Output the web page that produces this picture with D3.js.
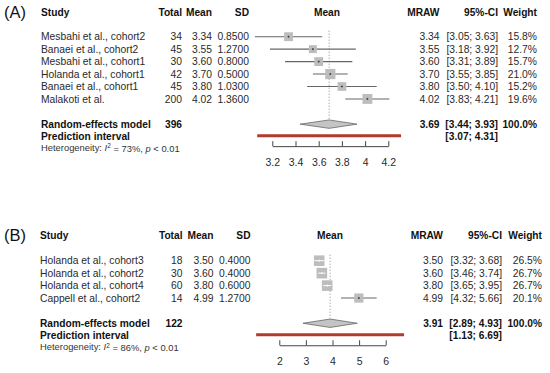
<!DOCTYPE html>
<html>
<head>
<meta charset="utf-8">
<script src="https://cdn.jsdelivr.net/npm/d3@7"></script>
<style>
  body { margin: 0; background: #fff; }
  text { font-family: "Liberation Sans", Arial, sans-serif; }
</style>
</head>
<body>
<script>
// panel A data
var studiesA = ['Mesbahi et al., cohort2', 'Banaei et al., cohort2', 'Mesbahi et al., cohort1',
  'Holanda et al., cohort1', 'Banaei et al., cohort1', 'Malakoti et al.'];
var totalA = [34, 45, 30, 42, 45, 200];
var meanA = [3.34, 3.55, 3.60, 3.70, 3.80, 4.02];
var sdA = [0.85, 1.27, 0.80, 0.50, 1.03, 1.36];
var lowA = [3.05, 3.18, 3.31, 3.55, 3.50, 3.83];
var highA = [3.63, 3.92, 3.89, 3.85, 4.10, 4.21];
var weightA = [15.8, 12.7, 15.7, 21.0, 15.2, 19.6];
var pooledA = {total: 396, est: 3.69, low: 3.44, high: 3.93, piLow: 3.07, piHigh: 4.31, i2: 73};
var ticksA = [3.2, 3.4, 3.6, 3.8, 4, 4.2];

// panel B data
var studiesB = ['Holanda et al., cohort3', 'Holanda et al., cohort2', 'Holanda et al., cohort4',
  'Cappell et al., cohort2'];
var totalB = [18, 30, 60, 14];
var meanB = [3.50, 3.60, 3.80, 4.99];
var sdB = [0.40, 0.40, 0.60, 1.27];
var lowB = [3.32, 3.46, 3.65, 4.32];
var highB = [3.68, 3.74, 3.95, 5.66];
var weightB = [26.5, 26.7, 26.7, 20.1];
var pooledB = {total: 122, est: 3.91, low: 2.89, high: 4.93, piLow: 1.13, piHigh: 6.69, i2: 86};
var ticksB = [2, 3, 4, 5, 6];

var svg = d3.select('body').append('svg')
  .attr('width', 550)
  .attr('height', 373);

var f2 = d3.format('.2f');
var f4 = d3.format('.4f');

function drawPanel(p){
  var g = svg.append('g');
  var n = p.studies.length;
  var rowStep = 12.45;
  var y = d3.scalePoint().domain(p.studies)
    .range([p.firstRow, p.firstRow + rowStep * (n - 1)]);
  var x = d3.scaleLinear().domain(p.domain).range(p.range);
  var size = d3.scaleSqrt().domain([0, d3.max(p.weight)]).range([0, p.maxBox]);
  var c = p.cols;

  var reY = y(p.studies[n - 1]) + 25.2;
  var piY = reY + 12.3;
  var hetY = reY + 23.5;
  var axisY = reY + 22;

  // panel letter
  g.append('text').attr('x', 4).attr('y', p.header).attr('dy', '0.36em')
    .style('font-size', '16.5px').style('fill', '#111').text(p.label);

  // headers
  var headers = [
    {t: 'Study', x: c.study, a: 'start'},
    {t: 'Total', x: c.total, a: 'end'},
    {t: 'Mean', x: c.mean, a: 'end'},
    {t: 'SD', x: c.sd, a: 'end'},
    {t: 'Mean', x: c.forest, a: 'middle'},
    {t: 'MRAW', x: c.mraw, a: 'end'},
    {t: '95%-CI', x: c.ci, a: 'end'},
    {t: 'Weight', x: c.w, a: 'end'}
  ];
  g.selectAll('.hdr').data(headers).enter().append('text')
    .attr('x', function(d){return d.x;})
    .attr('y', p.header).attr('dy', '0.36em')
    .attr('text-anchor', function(d){return d.a;})
    .style('font-size', '10.2px').style('font-weight', 'bold').style('fill', '#111')
    .text(function(d){return d.t;});

  // study rows
  var rows = p.studies.map(function(s, i){
    return {name: s, total: p.total[i], mean: p.mean[i], sd: p.sd[i],
      low: p.low[i], high: p.high[i], w: p.weight[i]};
  });
  var cells = [
    {x: c.study, a: 'start', f: function(d){return d.name;}},
    {x: c.total, a: 'end', f: function(d){return d.total;}},
    {x: c.mean, a: 'end', f: function(d){return f2(d.mean);}},
    {x: c.sd, a: 'end', f: function(d){return f4(d.sd);}},
    {x: c.mraw, a: 'end', f: function(d){return f2(d.mean);}},
    {x: c.ci, a: 'end', f: function(d){return '[' + f2(d.low) + '; ' + f2(d.high) + ']';}},
    {x: c.w, a: 'end', f: function(d){return d.w.toFixed(1) + '%';}}
  ];
  cells.forEach(function(cell){
    g.selectAll(null).data(rows).enter().append('text')
      .attr('x', cell.x)
      .attr('y', function(d){return y(d.name);}).attr('dy', '0.36em')
      .attr('text-anchor', cell.a)
      .style('font-size', '10.3px').style('fill', '#2a2a2a')
      .text(cell.f);
  });

  // dotted pooled line
  g.append('line')
    .attr('x1', x(p.pooled.est)).attr('x2', x(p.pooled.est))
    .attr('y1', p.firstRow - 6).attr('y2', reY - 5)
    .style('stroke', '#888').style('stroke-width', 1).style('stroke-dasharray', '1,2');

  // CI lines
  g.selectAll(null).data(rows).enter().append('line')
    .attr('x1', function(d){return x(d.low);})
    .attr('x2', function(d){return x(d.high);})
    .attr('y1', function(d){return y(d.name);})
    .attr('y2', function(d){return y(d.name);})
    .style('stroke', '#666').style('stroke-width', 1.1);

  // boxes
  g.selectAll(null).data(rows).enter().append('rect')
    .attr('x', function(d){return x(d.mean) - size(d.w) / 2;})
    .attr('y', function(d){return y(d.name) - size(d.w) / 2;})
    .attr('width', function(d){return size(d.w);})
    .attr('height', function(d){return size(d.w);})
    .style('fill', '#bdbdbd');

  // line inside the box: white when CI is inside the box
  g.selectAll(null).data(rows).enter().append('line')
    .attr('x1', function(d){
      var inside = x(d.high) - x(d.low) < size(d.w);
      return inside ? x(d.low) : x(d.mean) - 1;
    })
    .attr('x2', function(d){
      var inside = x(d.high) - x(d.low) < size(d.w);
      return inside ? x(d.high) : x(d.mean) + 1;
    })
    .attr('y1', function(d){return y(d.name);})
    .attr('y2', function(d){return y(d.name);})
    .style('stroke', function(d){
      return x(d.high) - x(d.low) < size(d.w) ? '#fff' : '#444';
    })
    .style('stroke-width', 1);
  g.selectAll(null).data(rows).enter().append('line')
    .attr('x1', function(d){return x(d.mean);})
    .attr('x2', function(d){return x(d.mean);})
    .attr('y1', function(d){return y(d.name) - 1;})
    .attr('y2', function(d){return y(d.name) + 1;})
    .style('stroke', function(d){
      return x(d.high) - x(d.low) < size(d.w) ? '#fff' : '#444';
    })
    .style('stroke-width', 1);

  // random effects row
  g.append('text').attr('x', c.study).attr('y', reY).attr('dy', '0.36em')
    .style('font-size', '10.2px').style('font-weight', 'bold').style('fill', '#111')
    .text('Random-effects model');
  g.append('text').attr('x', c.total).attr('y', reY).attr('dy', '0.36em')
    .attr('text-anchor', 'end')
    .style('font-size', '10.2px').style('font-weight', 'bold').style('fill', '#111')
    .text(p.pooled.total);
  var reCells = [
    {x: c.mraw, t: f2(p.pooled.est), y: reY},
    {x: c.ci, t: '[' + f2(p.pooled.low) + '; ' + f2(p.pooled.high) + ']', y: reY},
    {x: c.w, t: '100.0%', y: reY},
    {x: c.ci, t: '[' + f2(p.pooled.piLow) + '; ' + f2(p.pooled.piHigh) + ']', y: piY}
  ];
  g.selectAll(null).data(reCells).enter().append('text')
    .attr('x', function(d){return d.x;})
    .attr('y', function(d){return d.y;}).attr('dy', '0.36em')
    .attr('text-anchor', 'end')
    .style('font-size', '10.2px').style('font-weight', 'bold').style('fill', '#111')
    .text(function(d){return d.t;});

  g.append('polygon')
    .attr('points', [
      [x(p.pooled.low), reY], [x(p.pooled.est), reY - 4.2],
      [x(p.pooled.high), reY], [x(p.pooled.est), reY + 4.2]
    ].join(' '))
    .style('fill', '#c4c4c4').style('stroke', '#666').style('stroke-width', 0.8);

  // prediction interval
  g.append('text').attr('x', c.study).attr('y', piY).attr('dy', '0.36em')
    .style('font-size', '10.2px').style('font-weight', 'bold').style('fill', '#111')
    .text('Prediction interval');
  g.append('line')
    .attr('x1', x(p.pooled.piLow)).attr('x2', x(p.pooled.piHigh))
    .attr('y1', piY - 0.8).attr('y2', piY - 0.8)
    .style('stroke', '#b23a2c').style('stroke-width', 3);

  // heterogeneity
  var het = g.append('text').attr('x', c.study).attr('y', hetY).attr('dy', '0.36em')
    .style('font-size', '9.4px').style('fill', '#333');
  het.append('tspan').text('Heterogeneity: ');
  het.append('tspan').style('font-style', 'italic').text('I');
  het.append('tspan').attr('dy', '-0.4em').style('font-size', '6.5px').text('2');
  het.append('tspan').attr('dy', '0.4em').text(' = ' + p.pooled.i2 + '%, ');
  het.append('tspan').style('font-style', 'italic').text('p');
  het.append('tspan').text(' < 0.01');

  // axis
  var axis = g.append('g')
    .attr('transform', 'translate(0,' + axisY + ')')
    .call(d3.axisBottom(x).tickValues(p.ticks).tickSizeInner(-5).tickSizeOuter(0)
      .tickPadding(12).tickFormat(d3.format('')));
  axis.select('.domain').style('stroke', '#444');
  axis.selectAll('.tick line').style('stroke', '#444');
  axis.selectAll('.tick text').style('font-size', '10.5px').style('fill', '#2a2a2a')
    .style('font-family', '"Liberation Sans", Arial, sans-serif');
}

drawPanel({
  label: '(A)', header: 12.5, firstRow: 36.7,
  studies: studiesA, total: totalA, mean: meanA, sd: sdA,
  low: lowA, high: highA, weight: weightA, pooled: pooledA, ticks: ticksA,
  domain: [3.2, 4.2], range: [272.3, 388.3], maxBox: 10.2,
  cols: {study: 41, total: 182, mean: 212, sd: 249, forest: 327, mraw: 439.5, ci: 498, w: 537}
});

drawPanel({
  label: '(B)', header: 235, firstRow: 260.7,
  studies: studiesB, total: totalB, mean: meanB, sd: sdB,
  low: lowB, high: highB, weight: weightB, pooled: pooledB, ticks: ticksB,
  domain: [2, 6], range: [279.3, 385.7], maxBox: 10.6,
  cols: {study: 40, total: 182.5, mean: 213.5, sd: 250.5, forest: 330, mraw: 443, ci: 502, w: 542}
});
</script>
</body>
</html>
